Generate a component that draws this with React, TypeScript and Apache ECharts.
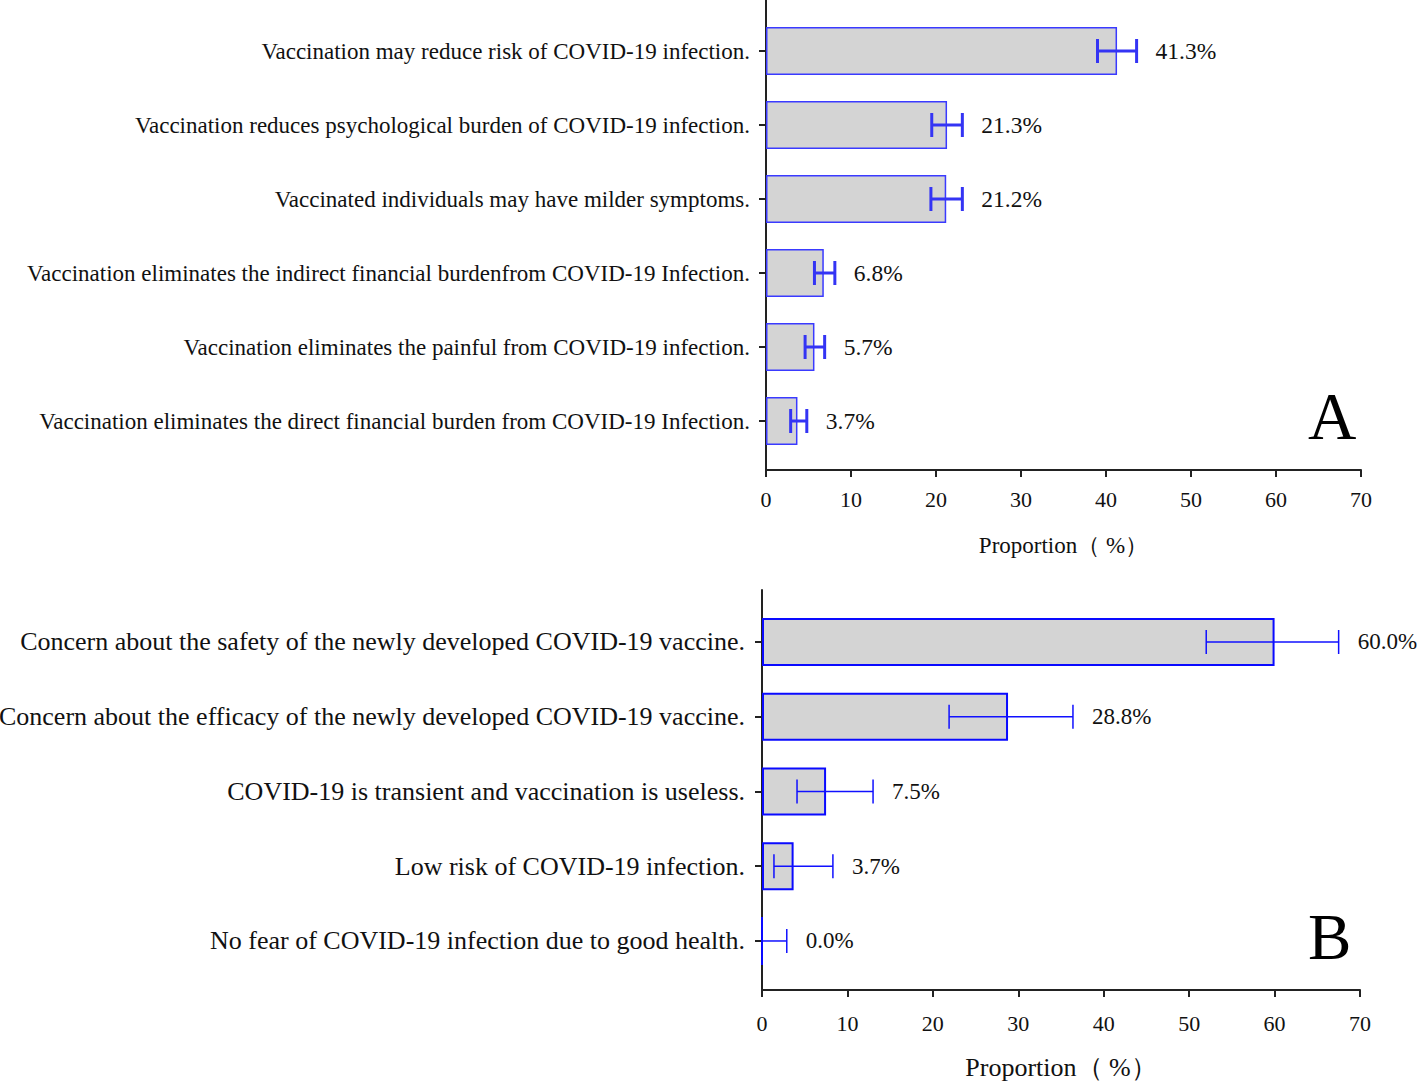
import React, { useEffect, useRef } from "react";
import * as echarts from "echarts";

const catsA = [
  "Vaccination may reduce risk of COVID-19 infection.",
  "Vaccination reduces psychological burden of COVID-19 infection.",
  "Vaccinated individuals may have milder symptoms.",
  "Vaccination eliminates the indirect financial burdenfrom COVID-19 Infection.",
  "Vaccination eliminates the painful from COVID-19 infection.",
  "Vaccination eliminates the direct financial burden from COVID-19 Infection.",
];
const valsA = [41.3, 21.3, 21.2, 6.8, 5.7, 3.7];
const lowA = [39.0, 19.5, 19.4, 5.7, 4.6, 2.9];
const highA = [43.6, 23.1, 23.1, 8.1, 6.9, 4.8];

const catsB = [
  "Concern about the safety of the newly developed COVID-19 vaccine.",
  "Concern about the efficacy of the newly developed COVID-19 vaccine.",
  "COVID-19 is transient and vaccination is useless.",
  "Low risk of COVID-19 infection.",
  "No fear of COVID-19 infection due to good health.",
];
const valsB = [60.0, 28.8, 7.5, 3.7, 0.0];
const lowB = [52.0, 21.9, 4.1, 1.4, 0.0];
const highB = [67.5, 36.4, 13.0, 8.3, 2.9];

const xMin = 0;
const xMax = 70;
const xStep = 10;
const axisTitle = "Proportion（ %）";
const panelA = "A";
const panelB = "B";

const FONT = "'Liberation Serif', 'Times New Roman', serif";

function makeErr(color: string, width: number, labelSize: number) {
  return (params: any, api: any) => {
    const lo = api.value(0);
    const hi = api.value(1);
    const ci = api.value(2);
    const v = api.value(3);
    const pLo = api.coord([lo, ci]);
    const pHi = api.coord([hi, ci]);
    const y = pLo[1];
    const cap = 12;
    const ls = { stroke: color, lineWidth: width };
    const children: any[] = [
      { type: "line", shape: { x1: pLo[0], y1: y, x2: pHi[0], y2: y }, style: ls },
      { type: "line", shape: { x1: pHi[0], y1: y - cap, x2: pHi[0], y2: y + cap }, style: ls },
    ];
    if (lo > 0) {
      children.push({ type: "line", shape: { x1: pLo[0], y1: y - cap, x2: pLo[0], y2: y + cap }, style: ls });
    }
    children.push({
      type: "text",
      style: {
        text: Number(v).toFixed(1) + "%",
        x: pHi[0] + 19,
        y: y,
        fill: "#111",
        fontSize: labelSize,
        fontFamily: FONT,
        align: "left",
        verticalAlign: "middle",
      },
    });
    return { type: "group", children };
  };
}

export default function App() {
  const ref = useRef<HTMLDivElement>(null);
  useEffect(() => {
    if (!ref.current) return;
    const chart = echarts.init(ref.current, null, { renderer: "svg" });
    const hiddenX = (gi: number) => ({
      type: "value",
      gridIndex: gi,
      min: xMin,
      max: xMax,
      interval: xStep,
      show: false,
    });
    const visX = (gi: number, nameGap: number, nameSize: number, labelMargin: number) => ({
      type: "value",
      gridIndex: gi,
      min: xMin,
      max: xMax,
      interval: xStep,
      name: axisTitle,
      nameLocation: "middle",
      nameGap,
      nameTextStyle: { fontFamily: FONT, fontSize: nameSize, color: "#111" },
      axisLine: { show: true, lineStyle: { color: "#222", width: 2 } },
      axisTick: { show: true, length: 7, lineStyle: { color: "#222", width: 2 } },
      axisLabel: { fontFamily: FONT, fontSize: 22, color: "#111", margin: labelMargin },
      splitLine: { show: false },
    });
    const spineY = (gi: number) => ({
      type: "value",
      gridIndex: gi,
      min: 0,
      max: 1,
      axisLine: { show: true, lineStyle: { color: "#222", width: 2 } },
      axisTick: { show: false },
      axisLabel: { show: false },
      splitLine: { show: false },
    });
    const catY = (gi: number, cats: string[], size: number, margin: number) => ({
      type: "category",
      gridIndex: gi,
      data: cats,
      inverse: true,
      axisLine: { show: false },
      axisTick: { show: true, alignWithLabel: true, length: 7, lineStyle: { color: "#222", width: 2 } },
      axisLabel: { fontFamily: FONT, fontSize: size, color: "#111", margin },
    });
    const g = (o: any) => ({ ...o, containLabel: false, outerBoundsMode: "none" });
    const option: any = {
      animation: false,
      backgroundColor: "#fff",
      grid: [
        g({ left: 766, right: 57, top: 14, height: 444 }),
        g({ left: 766, right: 57, top: 0, height: 470 }),
        g({ left: 762, right: 58, top: 604.6, height: 373.75 }),
        g({ left: 762, right: 58, top: 590, height: 400 }),
      ],
      xAxis: [hiddenX(0), visX(1, 64, 23, 18), hiddenX(2), visX(3, 64, 26, 22)],
      yAxis: [catY(0, catsA, 23, 16), spineY(1), catY(2, catsB, 26, 17), spineY(3)],
      series: [
        {
          type: "bar",
          xAxisIndex: 0,
          yAxisIndex: 0,
          data: valsA,
          barWidth: 48,
          itemStyle: { color: "#d4d4d4", borderColor: "#3a3aff", borderWidth: 1.5 },
        },
        {
          type: "custom",
          xAxisIndex: 0,
          yAxisIndex: 0,
          renderItem: makeErr("#3434f4", 3, 23.5),
          encode: { x: [0, 1], y: 2 },
          data: catsA.map((c, i) => [lowA[i], highA[i], c, valsA[i]]),
          z: 5,
        },
        {
          type: "bar",
          xAxisIndex: 2,
          yAxisIndex: 2,
          data: valsB,
          barWidth: 48,
          itemStyle: { color: "#d4d4d4", borderColor: "#0a0aff", borderWidth: 2 },
        },
        {
          type: "custom",
          xAxisIndex: 2,
          yAxisIndex: 2,
          renderItem: makeErr("#1010ff", 1.5, 23),
          encode: { x: [0, 1], y: 2 },
          data: catsB.map((c, i) => [lowB[i], highB[i], c, valsB[i]]),
          z: 5,
        },
      ],
      graphic: [
        {
          type: "text",
          left: 1308,
          top: 382,
          style: { text: panelA, fontFamily: FONT, fontSize: 67, fill: "#000" },
        },
        {
          type: "text",
          left: 1308,
          top: 904,
          style: { text: panelB, fontFamily: FONT, fontSize: 65, fill: "#000" },
        },
      ],
    };
    chart.setOption(option);
    return () => chart.dispose();
  }, []);
  return (
    <div
      ref={ref}
      style={{ position: "absolute", left: 0, top: 0, width: 1418, height: 1084 }}
    />
  );
}
